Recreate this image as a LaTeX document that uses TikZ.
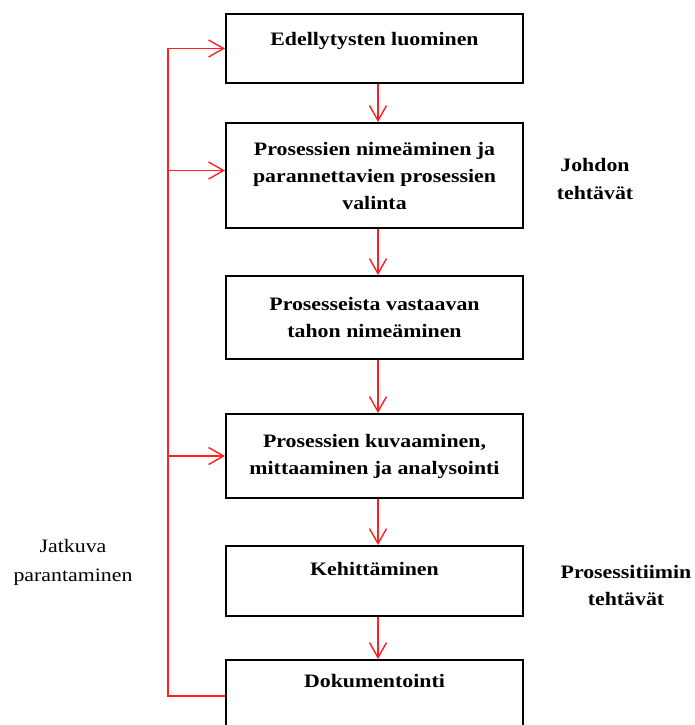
\documentclass[tikz,border=0pt]{standalone}
\usepackage{fontspec}
\setmainfont{Liberation Serif}[FakeStretch=1.15]
\usepackage{tikz}
\usetikzlibrary{arrows.meta, positioning, calc}
\usepackage{xcolor}
\definecolor{loopred}{HTML}{FF2020}

\begin{document}
\begin{tikzpicture}[
    x=1pt, y=1pt,
    every node/.style={font=\fontsize{19}{27}\selectfont},
    stepbox/.style={draw, line width=2pt, minimum width=297pt, align=center, font=\fontsize{19}{27}\selectfont\bfseries},
    headbox/.style={stepbox, inner sep=0pt},
    sidenote/.style={align=center},
    loopline/.style={loopred, line width=1.4pt},
    looparrow/.style={loopline, -{Straight Barb[length=15pt, width=17pt, line width=1.4pt]}}
]
    \useasboundingbox (0,0) rectangle (694,-725);

    % process steps
    \node[headbox, anchor=north, text height=31.5pt, text depth=37.5pt] (b1) at (374.5,-13) {Edellytysten luominen};
    \node[stepbox, minimum height=105pt] (b2) at (374.5,-175.5) {Prosessien nimeäminen ja\\parannettavien prosessien\\valinta};
    \node[stepbox, minimum height=83pt] (b3) at (374.5,-317.5) {Prosesseista vastaavan\\tahon nimeäminen};
    \node[stepbox, minimum height=84pt] (b4) at (374.5,-456) {Prosessien kuvaaminen,\\mittaaminen ja analysointi};
    \node[headbox, anchor=north, text height=29.5pt, text depth=40.5pt] (b5) at (374.5,-545) {Kehittäminen};
    \node[headbox, anchor=north, text height=27.5pt, text depth=44.5pt] (b6) at (374.5,-659) {Dokumentointi};

    % side labels
    \node[sidenote, font=\fontsize{19}{28}\selectfont\bfseries] (johto) at (595,-179) {Johdon\\tehtävät};
    \node[sidenote, font=\fontsize{19}{27}\selectfont\bfseries] (tiimi) at (626,-585.5) {Prosessitiimin\\tehtävät};
    \node[sidenote, font=\fontsize{19}{29}\selectfont] (jatkuva) at (73,-562.5) {Jatkuva\\parantaminen};

    % main flow
    \foreach \a/\b in {b1/b2, b2/b3, b3/b4, b4/b5, b5/b6}
        \draw[looparrow] ([xshift=3.5pt]\a.south) -- ([xshift=3.5pt]\b.north);

    % feedback loop
    \coordinate (rail) at (168,0);
    \draw[looparrow] (b6.west) -| (rail |- b1.west) -- (b1.west);
    \draw[looparrow] ([yshift=5pt]b2.west -| rail) -- ([yshift=5pt]b2.west);
    \draw[looparrow] (b4.west -| rail) -- (b4.west);
\end{tikzpicture}
\end{document}
